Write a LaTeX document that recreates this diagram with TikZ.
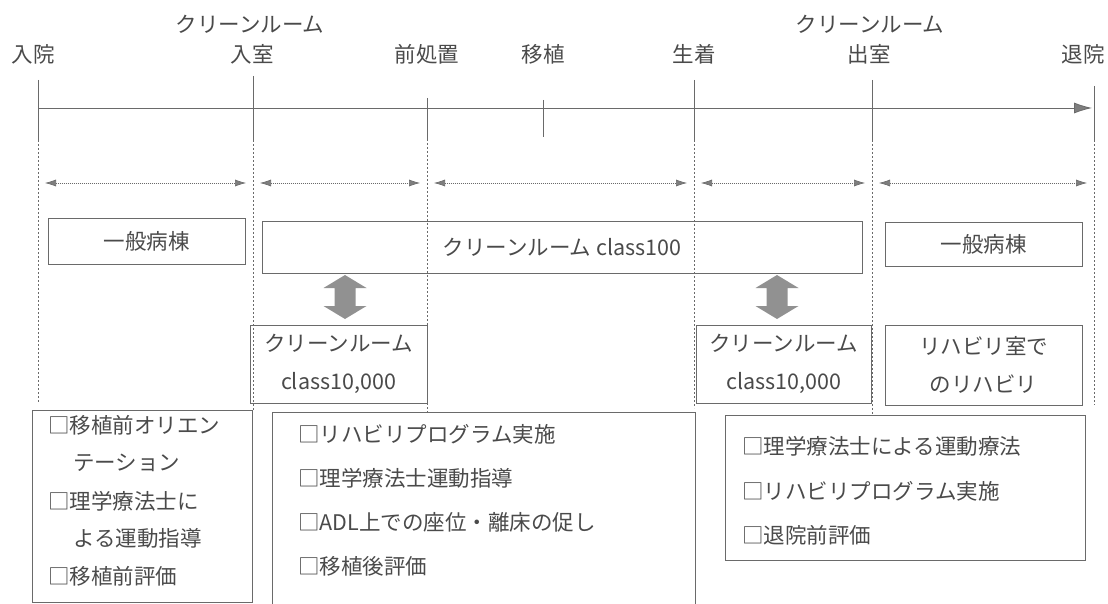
\documentclass[tikz,border=0pt]{standalone}
\usepackage{fontspec}
\setmainfont{Noto Sans CJK JP}
\usetikzlibrary{arrows.meta}
\definecolor{ink}{HTML}{4A4A4A}
\definecolor{rule}{HTML}{6A6A6A}
\definecolor{fillg}{HTML}{7E7E7E}
\tikzset{
  txt/.style={font=\fontsize{21.5}{38}\selectfont, text=ink, inner sep=0pt},
  box/.style={draw=rule, line width=0.8pt, inner sep=0pt, txt, align=center},
  tick/.style={draw=rule, line width=0.8pt},
  vdash/.style={draw=rule, line width=0.7pt, dash pattern=on 2pt off 2pt},
  span/.style={draw=rule, line width=0.6pt, dash pattern=on 1pt off 1pt, {Latex[length=11pt,width=7pt,fill=fillg]}-{Latex[length=11pt,width=7pt,fill=fillg]}, shorten <=7pt, shorten >=7pt},
  fatarrow/.style={fill=fillg!85, draw=none},
}
\begin{document}
\begin{tikzpicture}[x=1pt,y=-1pt]
\useasboundingbox (0,0) rectangle (1108,604);
% top labels
\node[txt] (cr1) at (250,24) {クリーンルーム};
\node[txt] (cr2) at (870,24) {クリーンルーム};
\node[txt] (l0) at (33,54) {入院};
\node[txt] (l1) at (252,54) {入室};
\node[txt] (l2) at (427,54) {前処置};
\node[txt] (l3) at (543,54) {移植};
\node[txt] (l4) at (694,54) {生着};
\node[txt] (l5) at (869,54) {出室};
\node[txt] (l6) at (1083,54) {退院};
% tick coordinates
\coordinate (a0) at (38,80);   \coordinate (m0) at (38,140);  \coordinate (e0) at (38,402);
\coordinate (a1) at (253,76);  \coordinate (m1) at (253,140); \coordinate (e1) at (253,410);
\coordinate (a2) at (427,98);  \coordinate (m2) at (427,139); \coordinate (e2) at (427,412);
\coordinate (a3) at (543,100); \coordinate (m3) at (543,137);
\coordinate (a4) at (694,80);  \coordinate (m4) at (694,140); \coordinate (e4) at (694,408);
\coordinate (a5) at (872,80);  \coordinate (m5) at (872,140); \coordinate (e5) at (872,415);
\coordinate (a6) at (1094,86); \coordinate (m6) at (1094,140);\coordinate (e6) at (1094,405);
\coordinate (ts) at (38,108); \coordinate (te) at (1092,108);
% timeline
\draw[tick, -{Latex[length=18pt,width=11pt,fill=fillg]}] (ts) -- (te);
\foreach \i in {0,1,2,3,4,5,6} {\draw[tick] (a\i) -- (m\i);}
\foreach \i in {0,1,2,4,5,6} {\draw[vdash] (m\i) -- (e\i);}
% span arrows
\coordinate (s0) at (38,183); \coordinate (s1) at (253,183); \coordinate (s2) at (427,183);
\coordinate (s4) at (694,183); \coordinate (s5) at (872,183); \coordinate (s6) at (1094,183);
\draw[span] (s0) -- (s1);
\draw[span] (s1) -- (s2);
\draw[span] (s2) -- (s4);
\draw[span] (s4) -- (s5);
\draw[span] (s5) -- (s6);
% ward boxes
\node[box, minimum width=197pt, minimum height=46pt] (w1) at (146.5,241) {一般病棟};
\node[box, minimum width=600pt, minimum height=52pt] (cr100) at (562,247) {クリーンルーム class100};
\node[box, minimum width=197pt, minimum height=44pt] (w2) at (983.5,244) {一般病棟};
\node[box, minimum width=177pt, minimum height=78pt] (c10a) at (338.5,364) {クリーンルーム\\class10,000};
\node[box, minimum width=175pt, minimum height=78pt] (c10b) at (783.5,364) {クリーンルーム\\class10,000};
\node[box, minimum width=197pt, minimum height=80pt] (reh) at (983.5,365) {リハビリ室で\\のリハビリ};
% fat double arrows
\foreach \x in {345,777} {
  \fill[fatarrow] (\x,275) -- (\x+21.5,288) -- (\x+10.5,288) -- (\x+10.5,306) -- (\x+21.5,306) -- (\x,319)
    -- (\x-21.5,306) -- (\x-10.5,306) -- (\x-10.5,288) -- (\x-21.5,288) -- cycle;
}
% bottom boxes
\node[draw=rule, line width=0.8pt, minimum width=220pt, minimum height=192pt, anchor=north west, inner sep=0pt] (b1) at (32,410) {};
\node[txt, anchor=west] (b1a) at (48,425) {□移植前オリエン};
\node[txt, anchor=west] (b1b) at (73,463) {テーション};
\node[txt, anchor=west] (b1c) at (48,501) {□理学療法士に};
\node[txt, anchor=west] (b1d) at (73,538) {よる運動指導};
\node[txt, anchor=west] (b1e) at (48,576) {□移植前評価};
\draw[draw=rule, line width=0.8pt] (272,606) |- (695,412) -- (695,606);
\coordinate (b2) at (483,412);
\node[txt, anchor=west] (b2a) at (298,434) {□リハビリプログラム実施};
\node[txt, anchor=west] (b2b) at (298,478) {□理学療法士運動指導};
\node[txt, anchor=west] (b2c) at (298,522) {□ADL上での座位・離床の促し};
\node[txt, anchor=west] (b2d) at (298,566) {□移植後評価};
\node[draw=rule, line width=0.8pt, minimum width=360pt, minimum height=145pt, anchor=north west, inner sep=0pt] (b3) at (725,415) {};
\node[txt, anchor=west] (b3a) at (742,446) {□理学療法士による運動療法};
\node[txt, anchor=west] (b3b) at (742,491) {□リハビリプログラム実施};
\node[txt, anchor=west] (b3c) at (742,535) {□退院前評価};
\end{tikzpicture}
\end{document}
